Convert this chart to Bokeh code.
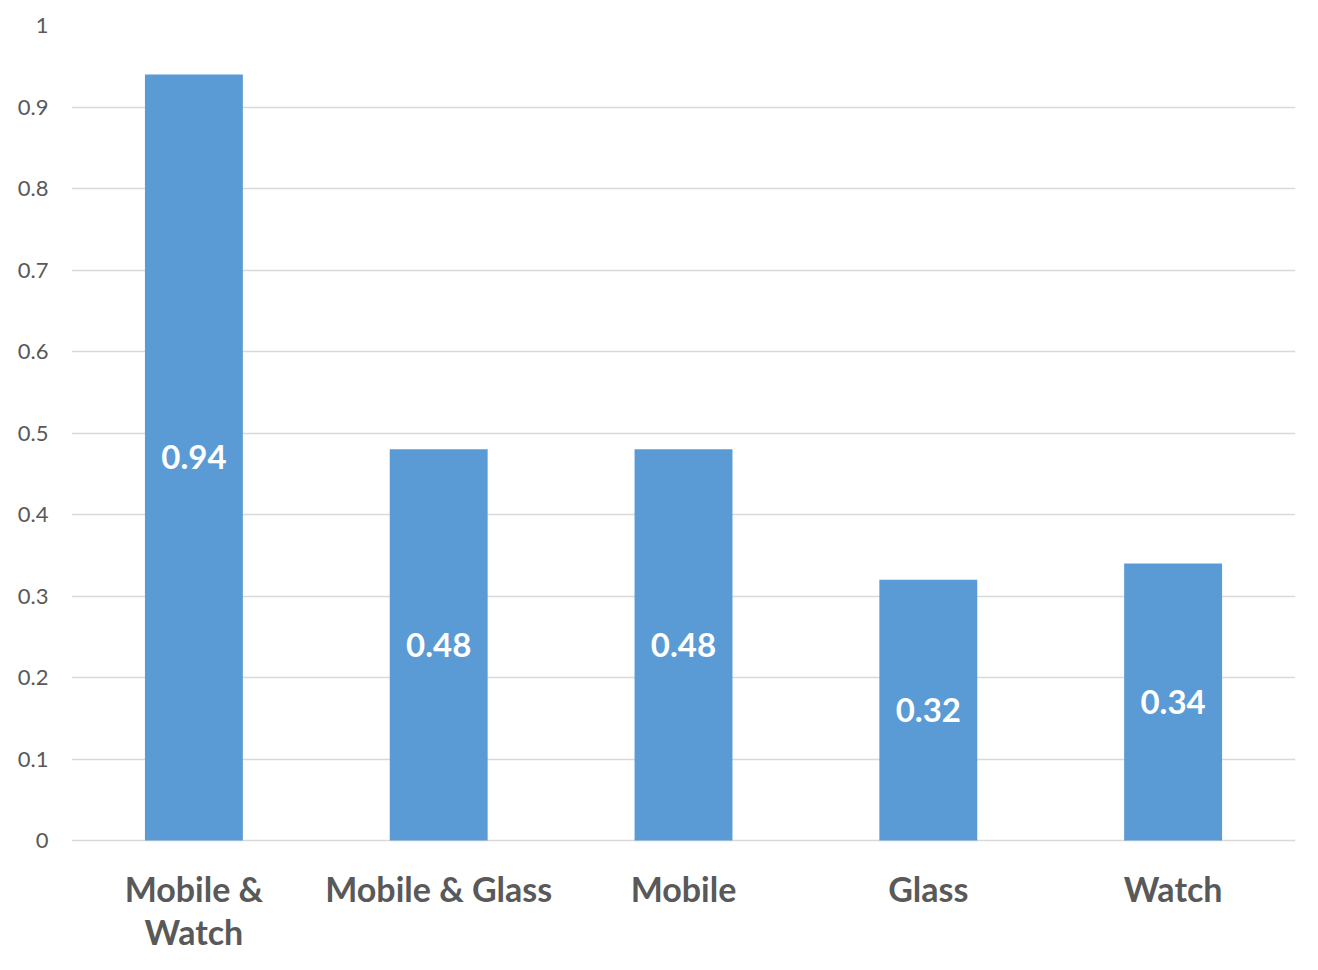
from bokeh.plotting import figure
from bokeh.models import ColumnDataSource, FactorRange, Range1d, FixedTicker
from bokeh.core.properties import value
from bokeh.embed import file_html
from bokeh.resources import INLINE

categories = ["Mobile &\nWatch", "Mobile & Glass", "Mobile", "Glass", "Watch"]
values = [0.94, 0.48, 0.48, 0.32, 0.34]
labels = ["0.94", "0.48", "0.48", "0.32", "0.34"]
y_ticks = [0, 0.1, 0.2, 0.3, 0.4, 0.5, 0.6, 0.7, 0.8, 0.9, 1]
y_tick_labels = ["0", "0.1", "0.2", "0.3", "0.4", "0.5", "0.6", "0.7", "0.8", "0.9", "1"]

W, H = 1302, 954
LEFT, RIGHT, TOP = 71, 7, 25
ZERO_PX = 840  # pixel row of value 0
unit_px = ZERO_PX - TOP  # pixels per 1.0
y_start = -(H - ZERO_PX) / unit_px

src = ColumnDataSource(dict(cat=categories, val=values, mid=[v / 2 for v in values], lab=labels,
                            cat_y=[-27 / unit_px] * len(categories)))

p = figure(width=W, height=H, x_range=FactorRange(*categories, range_padding=0),
           y_range=Range1d(y_start, 1), output_backend="svg", toolbar_location=None,
           x_axis_location=None,
           min_border_left=LEFT, min_border_right=RIGHT, min_border_top=TOP, min_border_bottom=0)
p.outline_line_color = None
p.background_fill_color = "white"
p.border_fill_color = "white"

p.vbar(x="cat", top="val", bottom=0, width=0.4, source=src, fill_color="#5B9BD5", line_color=None)
p.text(x="cat", y="mid", text="lab", source=src, text_align="center", text_baseline="middle",
       text_color="white", text_font=value("Lato"), text_font_style="bold", text_font_size="33px")
p.text(x="cat", y="cat_y", text="cat", source=src, text_align="center", text_baseline="top",
       text_color="#595959", text_font=value("Lato"), text_font_style="bold", text_font_size="34px",
       text_line_height=1.05)

p.yaxis.ticker = FixedTicker(ticks=y_ticks)
p.yaxis.major_label_overrides = {t: s for t, s in zip(y_ticks, y_tick_labels)}
p.yaxis.axis_line_color = None
p.yaxis.major_tick_line_color = None
p.yaxis.minor_tick_line_color = None
p.yaxis.major_label_text_font = "Lato"
p.yaxis.major_label_text_font_size = "22px"
p.yaxis.major_label_text_color = "#595959"
p.yaxis.major_label_standoff = 17

p.xgrid.grid_line_color = None
p.ygrid.grid_line_color = "#D9D9D9"
p.ygrid.grid_line_width = 1.5
p.ygrid.ticker = FixedTicker(ticks=y_ticks)

open("out.html", "w").write(file_html(p, INLINE))
